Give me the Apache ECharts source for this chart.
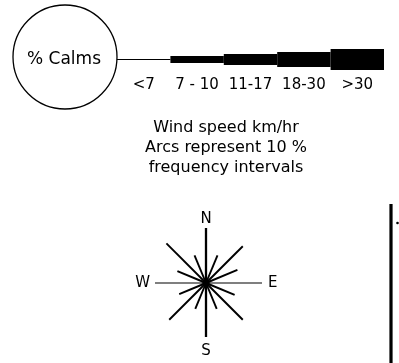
<!DOCTYPE html>
<html>
<head>
<meta charset="utf-8">
<script src="https://cdn.jsdelivr.net/npm/echarts@6/dist/echarts.min.js"></script>
<style>
  html, body { margin: 0; padding: 0; background: #fff; }
  #chart { width: 399px; height: 363px; }
</style>
</head>
<body>
<div id="chart"></div>
<script>
// Wind-speed classes of the rose key and the relative line weight of each class
const speedClasses = ['<7', '7 - 10', '11-17', '18-30', '>30'];
const speedWeights = [1, 7, 11, 15, 21];

// Sample rose: spoke length for each of the 16 compass points
const directions = ['N', 'NNE', 'NE', 'ENE', 'E', 'ESE', 'SE', 'SSE',
                    'S', 'SSW', 'SW', 'WSW', 'W', 'WNW', 'NW', 'NNW'];
const spokeLengths = [55, 30, 52, 34, 56, 31, 52, 28, 54, 28, 52, 29, 51, 31, 56, 30];

// Explanatory notes under the key
const noteLines = ['Wind speed km/hr', 'Arcs represent 10 %', 'frequency intervals'];
const calmsLabel = '% Calms';

const FONT = '"DejaVu Sans", "Liberation Sans", sans-serif';
const INK = '#000';

// extra spacing between the compass letters and the rose, per side
const labelPadding = { E: [0, 0, 0, 6], S: [5, 0, 0, 0] };

const chart = echarts.init(document.getElementById('chart'), null, { renderer: 'canvas' });

chart.setOption({
  backgroundColor: '#fff',
  animation: false,
  grid: { left: 117, top: 47, width: 267, height: 25, containLabel: false },
  xAxis: {
    type: 'category',
    data: speedClasses,
    boundaryGap: true,
    axisLine: { show: false },
    axisTick: { show: false },
    splitLine: { show: false },
    axisLabel: { interval: 0, hideOverlap: false, color: INK, fontFamily: FONT, fontSize: 15, margin: 6 }
  },
  yAxis: { type: 'value', min: -12.5, max: 12.5, show: false },
  polar: { center: [206, 283], radius: 56 },
  radiusAxis: { type: 'value', min: 0, max: 56, show: false },
  angleAxis: {
    type: 'category',
    data: directions.map(d => labelPadding[d]
      ? { value: d, textStyle: { padding: labelPadding[d] } }
      : d),
    boundaryGap: false,
    startAngle: 90,
    clockwise: true,
    axisLine: { show: false },
    axisTick: { show: false },
    splitLine: { show: false },
    axisLabel: { interval: 3, margin: 0, color: INK, fontFamily: FONT, fontSize: 15 }
  },
  series: [
    {
      // key bar: one band per speed class, thickness from its weight
      type: 'custom',
      coordinateSystem: 'cartesian2d',
      data: speedClasses.map((c, i) => [i, speedWeights[i]]),
      encode: { x: 0, y: 1 },
      renderItem: function (params, api) {
        const idx = api.value(0);
        const w = api.value(1);
        const top = api.coord([idx, w / 2]);
        const bottom = api.coord([idx, -w / 2]);
        const bw = api.size([1, 0])[0];
        return {
          type: 'rect',
          shape: { x: top[0] - bw / 2, y: top[1], width: bw, height: bottom[1] - top[1] },
          style: { fill: INK }
        };
      }
    },
    {
      // compass rose spokes
      type: 'custom',
      coordinateSystem: 'polar',
      data: spokeLengths.map((v, i) => [v, i]),
      renderItem: function (params, api) {
        const len = api.value(0);
        const dir = api.value(1);
        const p0 = api.coord([0, dir]);
        const p1 = api.coord([len, dir]);
        const name = directions[dir];
        let lw = 1.9;
        if (name === 'N' || name === 'S') lw = 2.3;
        if (name === 'E' || name === 'W') lw = 1.2;
        const children = [{
          type: 'line',
          shape: { x1: p0[0], y1: p0[1], x2: p1[0], y2: p1[1] },
          style: { stroke: INK, lineWidth: lw }
        }];
        if (params.dataIndex === 0) {
          children.push({
            type: 'circle',
            shape: { cx: p0[0], cy: p0[1], r: 3.6 },
            style: { fill: INK }
          });
        }
        return { type: 'group', children: children };
      }
    }
  ],
  graphic: [
    {
      type: 'circle',
      shape: { cx: 65, cy: 57, r: 52 },
      style: { fill: 'none', stroke: INK, lineWidth: 1.3 }
    },
    {
      type: 'text',
      x: 64, y: 60,
      style: { text: calmsLabel, font: '17px ' + FONT, fill: INK, align: 'center', verticalAlign: 'middle' }
    },
    {
      type: 'text',
      x: 226, y: 118,
      style: {
        text: noteLines.join('\n'),
        font: '16px ' + FONT,
        lineHeight: 20,
        fill: INK,
        align: 'center',
        verticalAlign: 'top'
      }
    },
    {
      type: 'line',
      shape: { x1: 391, y1: 204, x2: 391, y2: 363 },
      style: { stroke: INK, lineWidth: 3.2 }
    },
    {
      type: 'circle',
      shape: { cx: 397.5, cy: 223, r: 1.3 },
      style: { fill: INK }
    }
  ]
});
</script>
</body>
</html>
